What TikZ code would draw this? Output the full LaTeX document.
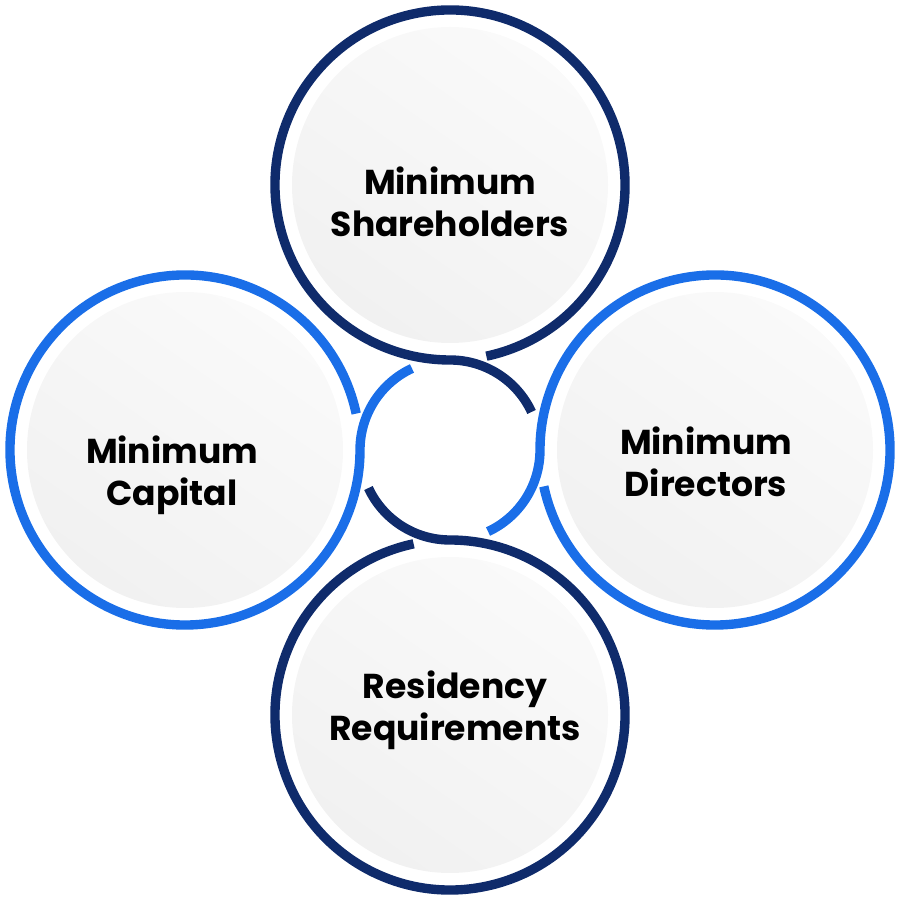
\documentclass[tikz,border=0pt]{standalone}
\usepackage{fontspec}
\setmainfont{Poppins}
\definecolor{navy}{HTML}{0F2B6B}
\definecolor{brightblue}{HTML}{1A6EE8}
\def\bigr{175}
\def\smallr{90}

\begin{document}
\begin{tikzpicture}[x=0.03cm,y=0.03cm]
		\tikzstyle{ring}=[line width=8pt]
		\tikzstyle{disc}=[circle,minimum size=316*0.03cm,inner sep=0pt,top color=gray!4,bottom color=gray!11,shading angle=-35]
		\tikzstyle{label}=[font=\bfseries\fontsize{29.5}{36}\selectfont,align=center,text=black]
		
		\useasboundingbox (0,0) rectangle (900,900);
		
		% Centres of the four big circles and the small one
		\coordinate (C) at (450,450);
		\coordinate (T) at (450,715);
		\coordinate (R) at (715,450);
		\coordinate (B) at (450,185);
		\coordinate (L) at (185,450);
		
		% Grey discs
		\foreach \c in {T,R,B,L}
		\node[disc] (D-\c) at (\c) {};
		
		% Each ring runs on into the small circle
		\foreach \c/\t/\col in {T/270/navy,R/180/brightblue,B/90/navy,L/0/brightblue}
		\draw[ring,\col] (\c) ++(\t+12:\bigr) arc[start angle=\t+12, end angle=\t+360, radius=\bigr]
			arc[start angle=\t+180, end angle=\t+115, radius=\smallr];
		
		% Texts
		\node[label] (txt-T) at (450,698) {Minimum\\Shareholders};
		\node[label] (txt-R) at (706,438) {Minimum\\Directors};
		\node[label] (txt-B) at (455,190) {Residency\\Requirements};
		\node[label] (txt-L) at (172,425) {Minimum\\Capital};
	\end{tikzpicture}
\end{document}
